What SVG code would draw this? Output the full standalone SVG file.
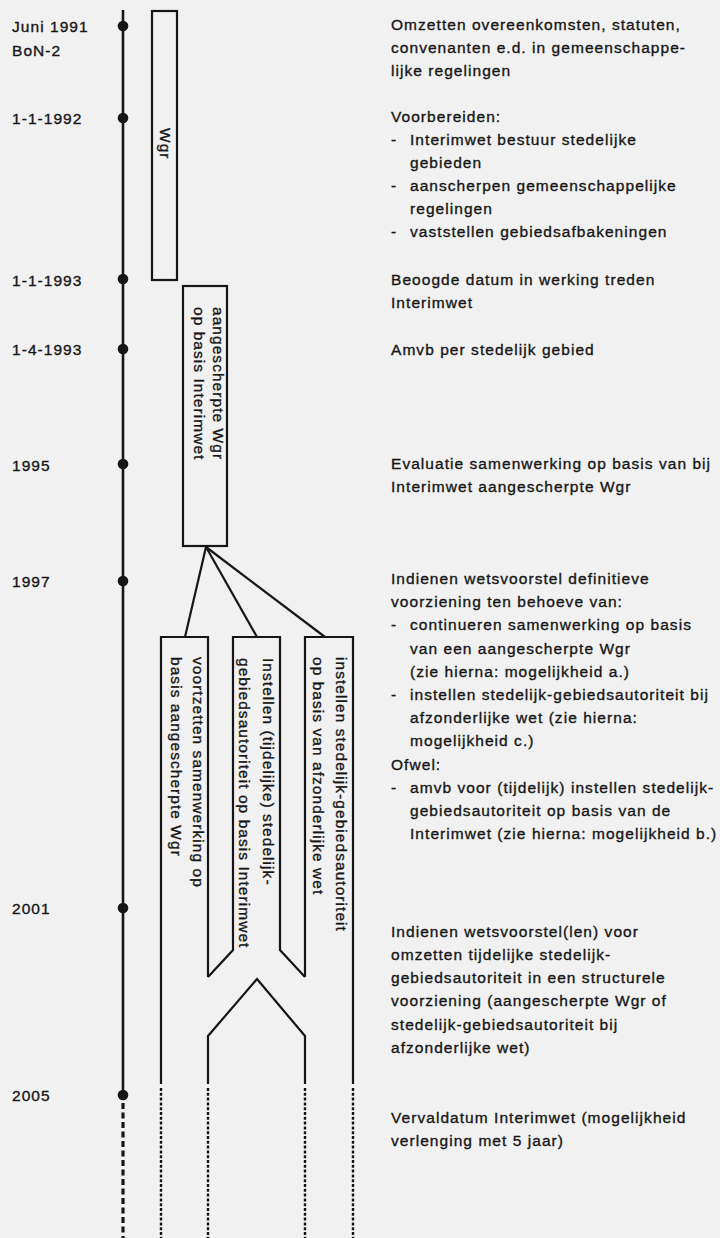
<svg xmlns="http://www.w3.org/2000/svg" width="720" height="1238" viewBox="0 0 720 1238">
<style>
.t{font-family:"Liberation Sans",Arial,sans-serif;font-size:15.5px;letter-spacing:1.05px;fill:#161616;stroke:#161616;stroke-width:0.35px}
.ln{fill:none;stroke:#161616;stroke-width:2.2;stroke-linejoin:miter}
.dot{fill:#161616}
.dt{fill:none;stroke:#161616;stroke-width:2.4;stroke-dasharray:3 1.8}
</style>
<rect width="720" height="1238" fill="#f1f1f1"/>

<g id="timeline">
<line x1="123" y1="10" x2="123" y2="1095" stroke="#161616" stroke-width="2.6"/>
<line x1="123" y1="1103" x2="123" y2="1238" stroke="#161616" stroke-width="3.2" stroke-dasharray="6 3.5"/>
</g>

<g id="m1991"><circle class="dot" cx="123" cy="26" r="5.3"/><text class="t" x="12" y="32">Juni 1991</text><text class="t" x="12" y="56">BoN-2</text></g>
<g id="m1992"><circle class="dot" cx="123" cy="118" r="5.3"/><text class="t" x="12" y="124">1-1-1992</text></g>
<g id="m1993a"><circle class="dot" cx="123" cy="279" r="5.3"/><text class="t" x="12" y="286">1-1-1993</text></g>
<g id="m1993b"><circle class="dot" cx="123" cy="349" r="5.3"/><text class="t" x="12" y="355">1-4-1993</text></g>
<g id="m1995"><circle class="dot" cx="123" cy="464" r="5.3"/><text class="t" x="12" y="471">1995</text></g>
<g id="m1997"><circle class="dot" cx="123" cy="581" r="5.3"/><text class="t" x="12" y="587">1997</text></g>
<g id="m2001"><circle class="dot" cx="123" cy="908" r="5.3"/><text class="t" x="12" y="914">2001</text></g>
<g id="m2005"><circle class="dot" cx="123" cy="1095" r="5.3"/><text class="t" x="12" y="1101">2005</text></g>

<g id="box-wgr">
<rect class="ln" x="152" y="11" width="25" height="269"/>
<text class="t" transform="translate(160,128) rotate(90)">Wgr</text>
</g>

<g id="box-aangescherpt">
<rect class="ln" x="183" y="286" width="44" height="260"/>
<text class="t" transform="translate(213,307) rotate(90)"><tspan x="0" y="0">aangescherpte Wgr</tspan><tspan x="0" y="19">op basis Interimwet</tspan></text>
</g>

<g id="connectors">
<line class="ln" x1="206" y1="547" x2="185" y2="637"/>
<line class="ln" x1="206" y1="547" x2="257" y2="637"/>
<line class="ln" x1="206" y1="547" x2="325" y2="637"/>
</g>

<g id="box-a">
<path class="ln" d="M161,1084 V637 H208 V977"/>
<line class="dt" x1="161" y1="1088" x2="161" y2="1238"/>
<text class="t" transform="translate(193,657) rotate(90)"><tspan x="0" y="0">voortzetten samenwerking op</tspan><tspan x="0" y="22">basis aangescherpte Wgr</tspan></text>
</g>

<g id="box-b">
<path class="ln" d="M208,977 L233,950 V637 H280 V950 L305,977"/>
<path class="ln" d="M208,1084 V1036 L257,979 L305,1036 V1084"/>
<line class="dt" x1="208" y1="1088" x2="208" y2="1238"/>
<line class="dt" x1="305" y1="1088" x2="305" y2="1238"/>
<text class="t" transform="translate(263,658) rotate(90)"><tspan x="0" y="0">Instellen (tijdelijke) stedelijk-</tspan><tspan x="0" y="24">gebiedsautoriteit op basis Interimwet</tspan></text>
</g>

<g id="box-c">
<path class="ln" d="M305,977 V637 H353 V1084"/>
<line class="dt" x1="353" y1="1088" x2="353" y2="1238"/>
<text class="t" transform="translate(336,657) rotate(90)"><tspan x="0" y="0">instellen stedelijk-gebiedsautoriteit</tspan><tspan x="0" y="23">op basis van afzonderlijke wet</tspan></text>
</g>

<g id="desc">
<text class="t"><tspan x="391" y="30">Omzetten overeenkomsten, statuten,</tspan><tspan x="391" y="53">convenanten e.d. in gemeenschappe-</tspan><tspan x="391" y="76">lijke regelingen</tspan></text>
<text class="t"><tspan x="391" y="122">Voorbereiden:</tspan><tspan x="391" y="145">-</tspan><tspan x="410" y="145">Interimwet bestuur stedelijke</tspan><tspan x="410" y="168">gebieden</tspan><tspan x="391" y="191">-</tspan><tspan x="410" y="191">aanscherpen gemeenschappelijke</tspan><tspan x="410" y="214">regelingen</tspan><tspan x="391" y="237">-</tspan><tspan x="410" y="237">vaststellen gebiedsafbakeningen</tspan></text>
<text class="t"><tspan x="391" y="285">Beoogde datum in werking treden</tspan><tspan x="391" y="308">Interimwet</tspan></text>
<text class="t" x="391" y="355">Amvb per stedelijk gebied</text>
<text class="t"><tspan x="391" y="469">Evaluatie samenwerking op basis van bij</tspan><tspan x="391" y="492">Interimwet aangescherpte Wgr</tspan></text>
<text class="t"><tspan x="391" y="584">Indienen wetsvoorstel definitieve</tspan><tspan x="391" y="607">voorziening ten behoeve van:</tspan><tspan x="391" y="630">-</tspan><tspan x="410" y="630">continueren samenwerking op basis</tspan><tspan x="410" y="654">van een aangescherpte Wgr</tspan><tspan x="410" y="677">(zie hierna: mogelijkheid a.)</tspan><tspan x="391" y="700">-</tspan><tspan x="410" y="700">instellen stedelijk-gebiedsautoriteit bij</tspan><tspan x="410" y="723">afzonderlijke wet (zie hierna:</tspan><tspan x="410" y="746">mogelijkheid c.)</tspan><tspan x="391" y="770">Ofwel:</tspan><tspan x="391" y="793">-</tspan><tspan x="410" y="793">amvb voor (tijdelijk) instellen stedelijk-</tspan><tspan x="410" y="816">gebiedsautoriteit op basis van de</tspan><tspan x="410" y="839">Interimwet (zie hierna: mogelijkheid b.)</tspan></text>
<text class="t"><tspan x="391" y="937">Indienen wetsvoorstel(len) voor</tspan><tspan x="391" y="960">omzetten tijdelijke stedelijk-</tspan><tspan x="391" y="983">gebiedsautoriteit in een structurele</tspan><tspan x="391" y="1006">voorziening (aangescherpte Wgr of</tspan><tspan x="391" y="1030">stedelijk-gebiedsautoriteit bij</tspan><tspan x="391" y="1053">afzonderlijke wet)</tspan></text>
<text class="t"><tspan x="391" y="1123">Vervaldatum Interimwet (mogelijkheid</tspan><tspan x="391" y="1146">verlenging met 5 jaar)</tspan></text>
</g>
</svg>
